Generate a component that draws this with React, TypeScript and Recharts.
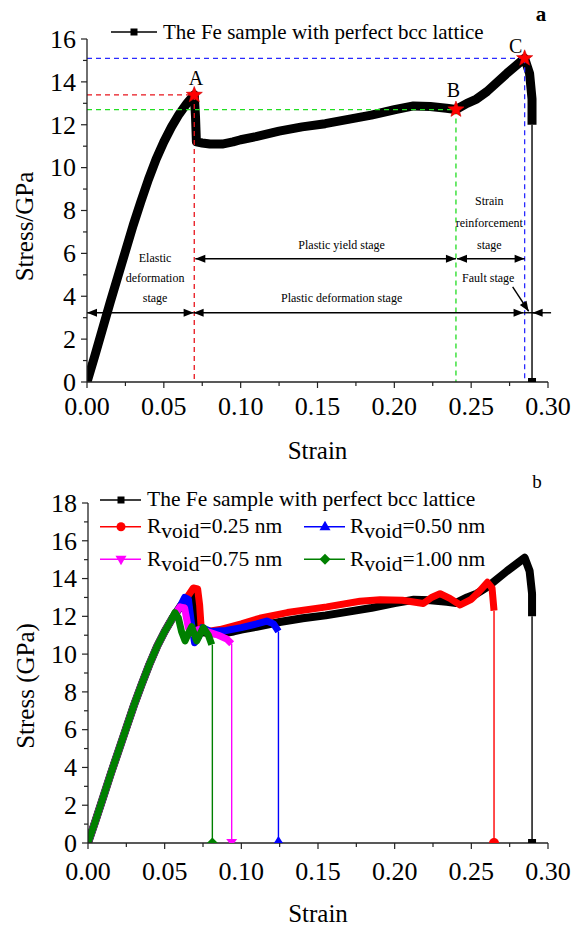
import React from 'react';
import { LineChart, Line, XAxis, YAxis, ReferenceLine, ReferenceDot, Legend } from 'recharts';

const FONT = '"Liberation Serif", "Times New Roman", Times, serif';

// ---------- axes ----------
const strainTicks = [0, 0.025, 0.05, 0.075, 0.1, 0.125, 0.15, 0.175, 0.2, 0.225, 0.25, 0.275, 0.3];
const stressTicksA = [0, 1, 2, 3, 4, 5, 6, 7, 8, 9, 10, 11, 12, 13, 14, 15, 16];
const stressTicksB = [0, 1, 2, 3, 4, 5, 6, 7, 8, 9, 10, 11, 12, 13, 14, 15, 16, 17, 18];

// ---------- perfect bcc lattice ----------
const perfectStrain = [0, 0.005, 0.01, 0.015, 0.02, 0.025, 0.03, 0.035, 0.04, 0.045, 0.05, 0.055, 0.06, 0.065, 0.0698, 0.0706, 0.0712, 0.075, 0.08, 0.088, 0.095, 0.1, 0.11, 0.125, 0.14, 0.155, 0.17, 0.185, 0.2, 0.2125, 0.2234, 0.234, 0.2401, 0.2473, 0.2535, 0.2603, 0.2733, 0.2848, 0.288, 0.2896, 0.2896];
const perfectStress = [0, 1.2, 2.45, 3.7, 4.9, 6.1, 7.3, 8.4, 9.45, 10.4, 11.2, 11.9, 12.5, 13.0, 13.4, 12.4, 11.2, 11.15, 11.1, 11.1, 11.2, 11.3, 11.45, 11.7, 11.9, 12.05, 12.25, 12.45, 12.7, 12.88, 12.85, 12.77, 12.71, 13.0, 13.2, 13.55, 14.4, 15.1, 14.4, 13.2, 12.0];
const perfectFailStrain = [0.2896, 0.2896];
const perfectFailStress = [12.0, 0];

// shared elastic part of void samples
const elasticStrain = [0, 0.005, 0.01, 0.015, 0.02, 0.025, 0.03, 0.035, 0.04, 0.045, 0.05];
const elasticStress = [0, 1.2, 2.45, 3.7, 4.9, 6.1, 7.3, 8.4, 9.45, 10.4, 11.2];

// R = 0.25 nm
const void025Strain = [0.055, 0.06, 0.065, 0.0687, 0.0715, 0.0728, 0.0738, 0.078, 0.086, 0.1, 0.112, 0.13, 0.1557, 0.1774, 0.1905, 0.205, 0.2187, 0.224, 0.2296, 0.236, 0.2427, 0.25, 0.255, 0.2605, 0.2635, 0.2648];
const void025Stress = [11.9, 12.5, 13.05, 13.5, 13.45, 12.6, 11.4, 11.2, 11.3, 11.6, 11.9, 12.2, 12.5, 12.8, 12.88, 12.85, 12.68, 13.0, 13.2, 12.95, 12.6, 12.9, 13.3, 13.8, 13.5, 12.3];
const void025Fail = [0.2648, 12.3];
// R = 0.50 nm
const void050Strain = [0.055, 0.06, 0.063, 0.0655, 0.0675, 0.0695, 0.072, 0.0745, 0.08, 0.09, 0.1, 0.11, 0.1166, 0.121, 0.1242];
const void050Stress = [11.9, 12.5, 13.0, 12.9, 11.6, 10.6, 10.9, 11.4, 11.2, 11.25, 11.4, 11.6, 11.75, 11.6, 11.2];
const void050Fail = [0.1242, 11.2];
// R = 0.75 nm
const void075Strain = [0.055, 0.058, 0.06, 0.063, 0.0654, 0.068, 0.072, 0.0774, 0.085, 0.0905, 0.0937];
const void075Stress = [11.9, 12.25, 12.5, 12.45, 11.4, 11.1, 11.3, 11.2, 11.0, 10.8, 10.55];
const void075Fail = [0.0937, 10.55];
// R = 1.00 nm
const void100Strain = [0.054, 0.0567, 0.059, 0.061, 0.0633, 0.0655, 0.0676, 0.0709, 0.0752, 0.0785, 0.0807];
const void100Stress = [11.75, 12.2, 11.9, 11.2, 10.7, 11.1, 11.45, 10.7, 11.4, 11.0, 10.5];
const void100Fail = [0.0811, 10.5];

// key points A, B, C
const pointLabels = ['A', 'B', 'C'];
const pointStrain = [0.0698, 0.2401, 0.2848];
const pointStress = [13.39, 12.71, 15.1];
const pointColors = ['#e8141c', '#22dd22', '#2a2aff'];

const zip = (xs: number[], ys: number[]) => xs.map((x, i) => ({ x, y: ys[i] }));
const perfectData = zip(perfectStrain, perfectStress);
const perfectFail = zip(perfectFailStrain, perfectFailStress);
const withElastic = (xs: number[], ys: number[]) => zip([...elasticStrain, ...xs], [...elasticStress, ...ys]);
const failData = (f: number[]) => [{ x: f[0], y: f[1] }, { x: f[0], y: 0 }];

const AXIS = '#222';

const XTick = (props: any) => {
  const { x, y, payload, index, gap } = props;
  const major = index % 2 === 0;
  return (
    <g>
      <line x1={x} y1={y} x2={x} y2={y + (major ? 6 : 4)} stroke={AXIS} strokeWidth={1.2} />
      {major && (
        <text x={x} y={y + gap} textAnchor="middle" fontSize={26} fontFamily={FONT} fill="#000">
          {Number(payload.value).toFixed(2)}
        </text>
      )}
    </g>
  );
};

const YTick = (props: any) => {
  const { x, y, payload } = props;
  const major = Number(payload.value) % 2 === 0;
  return (
    <g>
      <line x1={x} y1={y} x2={x - (major ? 6 : 4)} y2={y} stroke={AXIS} strokeWidth={1.2} />
      {major && (
        <text x={x - 11} y={y + 8.8} textAnchor="end" fontSize={26} fontFamily={FONT} fill="#000">
          {payload.value}
        </text>
      )}
    </g>
  );
};

const starPts = (cx: number, cy: number, R: number, r: number) => {
  const pts: string[] = [];
  for (let i = 0; i < 10; i++) {
    const a = -Math.PI / 2 + (i * Math.PI) / 5;
    const rad = i % 2 ? r : R;
    pts.push(`${cx + rad * Math.cos(a)},${cy + rad * Math.sin(a)}`);
  }
  return pts.join(' ');
};

const arrowShape = (startHead: boolean, endHead: boolean) => (p: any) => {
  const { x1, y1, x2, y2 } = p;
  const ang = Math.atan2(y2 - y1, x2 - x1);
  const head = (tx: number, ty: number, a: number) => {
    const L = 10;
    const W = 4;
    const bx = tx - L * Math.cos(a);
    const by = ty - L * Math.sin(a);
    const px = -Math.sin(a) * W;
    const py = Math.cos(a) * W;
    return <polygon points={`${tx},${ty} ${bx + px},${by + py} ${bx - px},${by - py}`} fill="#000" />;
  };
  return (
    <g>
      <line x1={x1} y1={y1} x2={x2} y2={y2} stroke="#000" strokeWidth={1.4} />
      {startHead && head(x1, y1, ang + Math.PI)}
      {endHead && head(x2, y2, ang)}
    </g>
  );
};

const textShape = (txt: string, size: number, weight: string = 'normal', dy: string = '0.33em') => (p: any) => (
  <text x={p.cx} y={p.cy} dy={dy} textAnchor="middle" fontSize={size} fontWeight={weight} fontFamily={FONT} fill="#000">
    {txt}
  </text>
);

// stage annotations (strain, stress of text centre)
const stageTexts = ['Elastic', 'deformation', 'stage', 'Plastic yield stage', 'Plastic deformation stage', 'Strain', 'reinforcement', 'stage', 'Fault stage'];
const stageTextStrain = [0.0443, 0.0443, 0.0443, 0.1657, 0.1657, 0.2618, 0.2618, 0.2618, 0.2611];
const stageTextStress = [5.78, 4.85, 3.91, 6.4, 3.91, 8.45, 7.41, 6.4, 4.85];

const halfSquare = (color: string) => (p: any) =>
  p.index === 1 ? <rect key={`d${p.index}`} x={p.cx - 4} y={p.cy - 4} width={8} height={4} fill={color} /> : <g key={`d${p.index}`} />;
const halfCircle = (color: string) => (p: any) =>
  p.index === 1 ? <path key={`d${p.index}`} d={`M${p.cx - 5},${p.cy} A5,5 0 0 1 ${p.cx + 5},${p.cy} Z`} fill={color} /> : <g key={`d${p.index}`} />;
const halfTriUp = (color: string) => (p: any) =>
  p.index === 1 ? <polygon key={`d${p.index}`} points={`${p.cx - 4.5},${p.cy} ${p.cx + 4.5},${p.cy} ${p.cx},${p.cy - 7}`} fill={color} /> : <g key={`d${p.index}`} />;
const halfTriDown = (color: string) => (p: any) =>
  p.index === 1 ? <polygon key={`d${p.index}`} points={`${p.cx - 5.5},${p.cy - 4} ${p.cx + 5.5},${p.cy - 4} ${p.cx + 2.5},${p.cy} ${p.cx - 2.5},${p.cy}`} fill={color} /> : <g key={`d${p.index}`} />;
const halfDiamond = (color: string) => (p: any) =>
  p.index === 1 ? <polygon key={`d${p.index}`} points={`${p.cx - 5.5},${p.cy} ${p.cx + 5.5},${p.cy} ${p.cx},${p.cy - 5.5}`} fill={color} /> : <g key={`d${p.index}`} />;

const LegendA = () => (
  <svg width={583} height={50} style={{ display: 'block' }}>
    <line x1={111} y1={32} x2={157} y2={32} stroke="#000" strokeWidth={1.5} />
    <rect x={130.5} y={28.5} width={7} height={7} fill="#000" />
    <text x={163} y={39} fontSize={21} fontFamily={FONT} fill="#000">The Fe sample with perfect bcc lattice</text>
    <text x={541} y={20.7} textAnchor="middle" fontSize={21} fontWeight="bold" fontFamily={FONT} fill="#000">a</text>
  </svg>
);

const LegendRow = ({ x, y, color, marker, label }: any) => (
  <g>
    <line x1={x} y1={y} x2={x + 41} y2={y} stroke={color} strokeWidth={1.5} />
    {marker === 'square' && <rect x={x + 17.5} y={y - 3.5} width={7} height={7} fill={color} />}
    {marker === 'circle' && <circle cx={x + 21} cy={y} r={4.5} fill={color} />}
    {marker === 'up' && <polygon points={`${x + 21},${y - 6} ${x + 15.5},${y + 3.5} ${x + 26.5},${y + 3.5}`} fill={color} />}
    {marker === 'down' && <polygon points={`${x + 21},${y + 6} ${x + 15.5},${y - 3.5} ${x + 26.5},${y - 3.5}`} fill={color} />}
    {marker === 'diamond' && <polygon points={`${x + 21},${y - 5.5} ${x + 26.5},${y} ${x + 21},${y + 5.5} ${x + 15.5},${y}`} fill={color} />}
    {label}
  </g>
);

const RLabel = ({ x, y, value }: any) => (
  <text x={x} y={y} fontSize={21.5} fontFamily={FONT} fill="#000">
    R<tspan dy={5}>void</tspan>
    <tspan dy={-5}>={value} nm</tspan>
  </text>
);

const LegendB = () => (
  <svg width={583} height={115} style={{ display: 'block' }}>
    <LegendRow x={100} y={40} color="#000" marker="square"
      label={<text x={147} y={46} fontSize={21.5} fontFamily={FONT} fill="#000">The Fe sample with perfect bcc lattice</text>} />
    <LegendRow x={100} y={66.7} color="#ff0000" marker="circle" label={<RLabel x={147} y={73.3} value="0.25" />} />
    <LegendRow x={304} y={66.7} color="#0000ff" marker="up" label={<RLabel x={350} y={73.3} value="0.50" />} />
    <LegendRow x={100} y={99.3} color="#ff00ff" marker="down" label={<RLabel x={147} y={105.7} value="0.75" />} />
    <LegendRow x={304} y={99.3} color="#008000" marker="diamond" label={<RLabel x={350} y={105.7} value="1.00" />} />
    <text x={537} y={28} textAnchor="middle" fontSize={19} fontFamily={FONT} fill="#000">b</text>
  </svg>
);

const axisCommon = {
  type: 'number' as const,
  axisLine: { stroke: AXIS, strokeWidth: 1.3 },
  tickLine: false,
  tickSize: 0,
  tickMargin: 0,
  interval: 0 as const,
  allowDataOverflow: true,
};

export default function App() {
  return (
    <div style={{ position: 'absolute', left: 0, top: 0, width: 583, height: 926, background: '#fff', overflow: 'hidden' }}>
      {/* Panel a */}
      <div style={{ position: 'absolute', left: 0, top: 0 }}>
        <LineChart width={583} height={468} margin={{ top: 39, right: 35, bottom: 0, left: 0 }}>
          <XAxis {...axisCommon} dataKey="x" domain={[0, 0.3]} ticks={strainTicks} height={86}
            tick={<XTick gap={33} />}
            label={{ value: 'Strain', position: 'insideBottom', offset: 9, fontSize: 25, fontFamily: FONT, fill: '#000' }} />
          <YAxis {...axisCommon} dataKey="y" domain={[0, 16]} ticks={stressTicksA} width={87}
            tick={<YTick />}
            label={{ value: 'Stress/GPa', angle: -90, position: 'insideLeft', offset: 24, dy: 16, fontSize: 25, fontFamily: FONT, fill: '#000', style: { textAnchor: 'middle' } }} />
          <Legend verticalAlign="middle" layout="horizontal" wrapperStyle={{ left: 0, top: 0, width: 583, height: 50 }} content={() => <LegendA />} />
          <Line data={perfectData} dataKey="y" stroke="#000" strokeWidth={9} strokeLinejoin="round" dot={false} isAnimationActive={false} />
          <Line data={perfectFail} dataKey="y" stroke="#000" strokeWidth={1.4} dot={halfSquare('#000')} isAnimationActive={false} />

          {pointLabels.map((l, i) => (
            <ReferenceLine key={`h${l}`} ifOverflow="visible" stroke={pointColors[i]} strokeWidth={1.3} strokeDasharray="5 4"
              segment={[{ x: 0, y: pointStress[i] }, { x: pointStrain[i], y: pointStress[i] }]} />
          ))}
          {pointLabels.map((l, i) => (
            <ReferenceLine key={`v${l}`} ifOverflow="visible" stroke={pointColors[i]} strokeWidth={1.3} strokeDasharray="5 4"
              segment={[{ x: pointStrain[i], y: pointStress[i] }, { x: pointStrain[i], y: 0 }]} />
          ))}

          {/* stage arrows */}
          <ReferenceLine ifOverflow="visible" segment={[{ x: 0, y: 3.23 }, { x: 0.0694, y: 3.23 }]} shape={arrowShape(true, true)} />
          <ReferenceLine ifOverflow="visible" segment={[{ x: 0.0694, y: 3.23 }, { x: 0.2841, y: 3.23 }]} shape={arrowShape(true, true)} />
          <ReferenceLine ifOverflow="visible" segment={[{ x: 0.2841, y: 3.23 }, { x: 0.302, y: 3.23 }]} shape={arrowShape(false, false)} />
          <ReferenceLine ifOverflow="visible" segment={[{ x: 0.2965, y: 3.23 }, { x: 0.29, y: 3.23 }]} shape={arrowShape(false, true)} />
          <ReferenceLine ifOverflow="visible" segment={[{ x: 0.0705, y: 5.75 }, { x: 0.2401, y: 5.75 }]} shape={arrowShape(true, true)} />
          <ReferenceLine ifOverflow="visible" segment={[{ x: 0.2408, y: 5.75 }, { x: 0.2848, y: 5.75 }]} shape={arrowShape(true, true)} />
          <ReferenceLine ifOverflow="visible" segment={[{ x: 0.277, y: 4.44 }, { x: 0.2874, y: 3.3 }]} shape={arrowShape(false, true)} />

          {stageTexts.map((t, i) => (
            <ReferenceDot key={`t${i}`} x={stageTextStrain[i]} y={stageTextStress[i]} r={0} ifOverflow="visible" shape={textShape(t, 12)} />
          ))}

          {pointLabels.map((l, i) => (
            <ReferenceDot key={`s${l}`} x={pointStrain[i]} y={pointStress[i]} r={8} ifOverflow="visible"
              shape={(p: any) => <polygon points={starPts(p.cx, p.cy, 8.5, 3.6)} fill="#ff0000" stroke="#d00000" strokeWidth={0.6} />} />
          ))}
          <ReferenceDot x={0.0709} y={13.85} r={0} ifOverflow="visible" shape={textShape('A', 20, 'normal', '0')} />
          <ReferenceDot x={0.2384} y={13.31} r={0} ifOverflow="visible" shape={textShape('B', 20, 'normal', '0')} />
          <ReferenceDot x={0.279} y={15.33} r={0} ifOverflow="visible" shape={textShape('C', 20, 'normal', '0')} />
        </LineChart>
      </div>

      {/* Panel b */}
      <div style={{ position: 'absolute', left: 0, top: 460 }}>
        <LineChart width={583} height={466} margin={{ top: 43, right: 35, bottom: 0, left: 0 }}>
          <XAxis {...axisCommon} dataKey="x" domain={[0, 0.3]} ticks={strainTicks} height={83}
            tick={<XTick gap={37} />}
            label={{ value: 'Strain', position: 'insideBottom', offset: 4, fontSize: 25, fontFamily: FONT, fill: '#000' }} />
          <YAxis {...axisCommon} dataKey="y" domain={[0, 18]} ticks={stressTicksB} width={88}
            tick={<YTick />}
            label={{ value: 'Stress (GPa)', angle: -90, position: 'insideLeft', offset: 25, dy: 13, fontSize: 25, fontFamily: FONT, fill: '#000', style: { textAnchor: 'middle' } }} />
          <Legend verticalAlign="middle" layout="horizontal" wrapperStyle={{ left: 0, top: 0, width: 583, height: 115 }} content={() => <LegendB />} />

          <Line data={perfectData} dataKey="y" stroke="#000" strokeWidth={8} strokeLinejoin="round" dot={false} isAnimationActive={false} />
          <Line data={perfectFail} dataKey="y" stroke="#000" strokeWidth={1.4} dot={halfSquare('#000')} isAnimationActive={false} />

          <Line data={withElastic(void025Strain, void025Stress)} dataKey="y" stroke="#ff0000" strokeWidth={7} strokeLinejoin="round" dot={false} isAnimationActive={false} />
          <Line data={failData(void025Fail)} dataKey="y" stroke="#ff0000" strokeWidth={1.4} dot={halfCircle('#ff0000')} isAnimationActive={false} />

          <Line data={withElastic(void050Strain, void050Stress)} dataKey="y" stroke="#0000ff" strokeWidth={7} strokeLinejoin="round" dot={false} isAnimationActive={false} />
          <Line data={failData(void050Fail)} dataKey="y" stroke="#0000ff" strokeWidth={1.4} dot={halfTriUp('#0000ff')} isAnimationActive={false} />

          <Line data={withElastic(void075Strain, void075Stress)} dataKey="y" stroke="#ff00ff" strokeWidth={7} strokeLinejoin="round" dot={false} isAnimationActive={false} />
          <Line data={failData(void075Fail)} dataKey="y" stroke="#ff00ff" strokeWidth={1.4} dot={halfTriDown('#ff00ff')} isAnimationActive={false} />

          <Line data={withElastic(void100Strain, void100Stress)} dataKey="y" stroke="#008000" strokeWidth={7} strokeLinejoin="round" dot={false} isAnimationActive={false} />
          <Line data={failData(void100Fail)} dataKey="y" stroke="#008000" strokeWidth={1.4} dot={halfDiamond('#008000')} isAnimationActive={false} />
        </LineChart>
      </div>
    </div>
  );
}
